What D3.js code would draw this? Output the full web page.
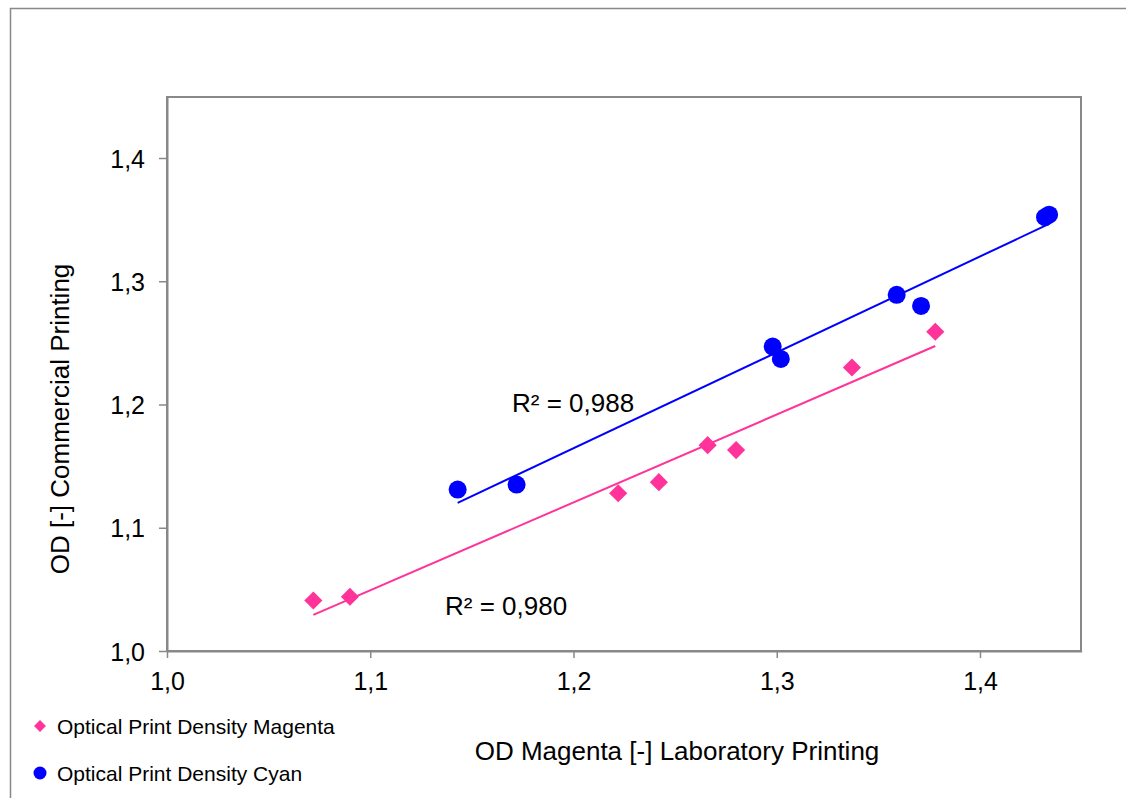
<!DOCTYPE html>
<html>
<head>
<meta charset="utf-8">
<script src="https://cdn.jsdelivr.net/npm/d3@7"></script>
<style>
  body { margin: 0; background: #fff; }
  svg { font-family: "Liberation Sans", Arial, sans-serif; }
</style>
</head>
<body>
<script>
const width = 1126;
const height = 798;

// Data
const magentaX = [1.072, 1.090, 1.222, 1.242, 1.266, 1.280, 1.337, 1.378];
const magentaY = [1.041, 1.044, 1.128, 1.137, 1.167, 1.163, 1.230, 1.259];
const cyanX = [1.143, 1.172, 1.298, 1.302, 1.359, 1.371, 1.432, 1.434];
const cyanY = [1.131, 1.135, 1.247, 1.237, 1.289, 1.280, 1.352, 1.354];
const ticks = [1.0, 1.1, 1.2, 1.3, 1.4];
const r2Labels = ["R² = 0,980", "R² = 0,988"];
const seriesNames = ["Optical Print Density Magenta", "Optical Print Density Cyan"];

const magenta = "#ff3399";
const blue = "#0000ff";

const svg = d3.select("body")
  .append("svg")
  .attr("width", width)
  .attr("height", height);

// outer chart frame (runs off the right / bottom edge)
svg.append("rect")
  .attr("x", 10.5).attr("y", 8.5)
  .attr("width", 1200).attr("height", 900)
  .attr("fill", "none").attr("stroke", "#888").attr("stroke-width", 1.5);

const plot = { left: 167, top: 97, right: 1081, bottom: 651 };

const x = d3.scaleLinear().domain([1.0, 1.45]).range([plot.left, plot.left + 0.45 / 0.1 * 203.25]);
const y = d3.scaleLinear().domain([1.0, 1.45]).range([plot.bottom, plot.bottom - 0.45 / 0.1 * 123.25]);

const fmt = d => d3.format(".1f")(d).replace(".", ",");

// plot area border
svg.append("rect")
  .attr("x", plot.left).attr("y", plot.top)
  .attr("width", plot.right - plot.left).attr("height", plot.bottom - plot.top)
  .attr("fill", "none").attr("stroke", "#888").attr("stroke-width", 2);

const xAxis = svg.append("g")
  .attr("transform", `translate(0,${plot.bottom})`)
  .call(d3.axisBottom(x).tickValues(ticks).tickFormat(fmt).tickSize(7).tickPadding(14).tickSizeOuter(0));
const yAxis = svg.append("g")
  .attr("transform", `translate(${plot.left},0)`)
  .call(d3.axisLeft(y).tickValues(ticks).tickFormat(fmt).tickSize(8).tickPadding(14).tickSizeOuter(0));

[xAxis, yAxis].forEach(a => {
  a.select(".domain").attr("stroke", "#888").attr("stroke-width", 2);
  a.selectAll(".tick line").attr("stroke", "#888").attr("stroke-width", 1.5);
  a.selectAll(".tick text")
    .attr("fill", "#000")
    .style("font-size", "25px")
    .style("font-family", "'Liberation Sans', Arial, sans-serif");
});
xAxis.selectAll(".tick text").attr("dy", "0.71em");
yAxis.selectAll(".tick text").attr("dy", "0.36em");

// axis titles
svg.append("text")
  .attr("x", 677).attr("y", 760)
  .attr("text-anchor", "middle")
  .style("font-size", "26px")
  .text("OD Magenta [-] Laboratory Printing");

svg.append("text")
  .attr("transform", "translate(69,419) rotate(-90)")
  .attr("text-anchor", "middle")
  .style("font-size", "26px")
  .text("OD [-] Commercial Printing");

// linear regression for trend lines
function fit(xs, ys) {
  const mx = d3.mean(xs), my = d3.mean(ys);
  const sxy = d3.sum(xs, (v, i) => (v - mx) * (ys[i] - my));
  const sxx = d3.sum(xs, v => (v - mx) * (v - mx));
  const b = sxy / sxx;
  const a = my - b * mx;
  const x0 = d3.min(xs), x1 = d3.max(xs);
  return [[x0, a + b * x0], [x1, a + b * x1]];
}

const line = d3.line().x(d => x(d[0])).y(d => y(d[1]));

svg.append("path")
  .attr("d", line(fit(magentaX, magentaY)))
  .attr("stroke", magenta).attr("stroke-width", 2).attr("fill", "none");
svg.append("path")
  .attr("d", line(fit(cyanX, cyanY)))
  .attr("stroke", blue).attr("stroke-width", 2).attr("fill", "none");

// markers
const diamond = d3.symbol().type(d3.symbolSquare).size(165);
svg.selectAll(".mag")
  .data(magentaX.map((v, i) => [v, magentaY[i]]))
  .enter()
  .append("path")
  .attr("class", "mag")
  .attr("d", diamond)
  .attr("transform", d => `translate(${x(d[0])},${y(d[1])}) rotate(45)`)
  .attr("fill", magenta);

svg.selectAll(".cyan")
  .data(cyanX.map((v, i) => [v, cyanY[i]]))
  .enter()
  .append("circle")
  .attr("class", "cyan")
  .attr("cx", d => x(d[0]))
  .attr("cy", d => y(d[1]))
  .attr("r", 9)
  .attr("fill", blue);

// R² labels
svg.append("text")
  .attr("x", 445).attr("y", 615)
  .style("font-size", "26px")
  .text(r2Labels[0]);
svg.append("text")
  .attr("x", 512).attr("y", 412)
  .style("font-size", "26px")
  .text(r2Labels[1]);

// legend
const legend = svg.append("g");
legend.append("path")
  .attr("d", d3.symbol().type(d3.symbolSquare).size(70))
  .attr("transform", "translate(40,726) rotate(45)")
  .attr("fill", magenta);
legend.append("circle")
  .attr("cx", 40).attr("cy", 773).attr("r", 6.5)
  .attr("fill", blue);
legend.selectAll(".legtext")
  .data(seriesNames)
  .enter()
  .append("text")
  .attr("x", 57)
  .attr("y", (d, i) => 734 + i * 47)
  .style("font-size", "21px")
  .text(d => d);
</script>
</body>
</html>
